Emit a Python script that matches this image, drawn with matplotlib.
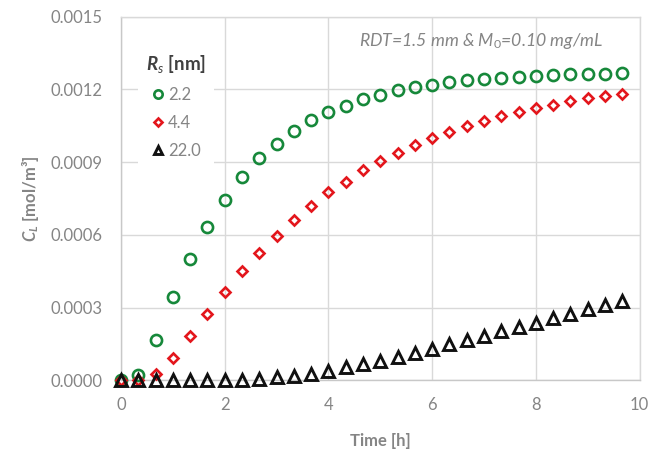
import matplotlib
matplotlib.use("Agg")
import matplotlib.pyplot as plt

plt.rcParams["font.family"] = ["Lato", "DejaVu Sans"]
plt.rcParams["mathtext.fontset"] = "custom"
plt.rcParams["mathtext.rm"] = "Lato"
plt.rcParams["mathtext.it"] = "Lato:italic"
plt.rcParams["mathtext.bf"] = "Lato:bold"
plt.rcParams["mathtext.bfit"] = "Lato:bold:italic"

# Sampling times [h]
time_h = [0.000, 0.333, 0.667, 1.000, 1.333, 1.667, 2.000, 2.333, 2.667, 3.000,
          3.333, 3.667, 4.000, 4.333, 4.667, 5.000, 5.333, 5.667, 6.000, 6.333,
          6.667, 7.000, 7.333, 7.667, 8.000, 8.333, 8.667, 9.000, 9.333, 9.667]

# Released concentration C_L [mol/m^3] for each solute radius
cl_r22 = [0.000000, 0.000024, 0.000165, 0.000343, 0.000501, 0.000634, 0.000745, 0.000838,
          0.000915, 0.000976, 0.001027, 0.001072, 0.001105, 0.001132, 0.001160, 0.001178,
          0.001197, 0.001208, 0.001218, 0.001229, 0.001238, 0.001244, 0.001248, 0.001251,
          0.001256, 0.001259, 0.001261, 0.001263, 0.001265, 0.001267]
cl_r44 = [0.000000, 0.000003, 0.000026, 0.000091, 0.000183, 0.000275, 0.000363, 0.000449,
          0.000527, 0.000597, 0.000661, 0.000720, 0.000775, 0.000819, 0.000866, 0.000904,
          0.000938, 0.000970, 0.000998, 0.001025, 0.001047, 0.001069, 0.001090, 0.001106,
          0.001121, 0.001137, 0.001150, 0.001162, 0.001173, 0.001182]
cl_r220 = [0.000000, 0.000000, 0.000000, 0.000000, 0.000000, 0.000001, 0.000001, 0.000002,
           0.000006, 0.000012, 0.000019, 0.000026, 0.000040, 0.000054, 0.000067, 0.000082,
           0.000096, 0.000114, 0.000131, 0.000150, 0.000167, 0.000185, 0.000203, 0.000219,
           0.000238, 0.000256, 0.000274, 0.000293, 0.000310, 0.000326]

series_labels = ["2.2", "4.4", "22.0"]
x_ticks = [0, 2, 4, 6, 8, 10]
y_ticks = [0.0, 0.0003, 0.0006, 0.0009, 0.0012, 0.0015]

GRAY = "#858585"
GRID = "#d9d9d9"

fig = plt.figure(figsize=(6.52, 4.58), dpi=100)
ax = fig.add_axes([121 / 652, 1 - 380.4 / 458, (639.5 - 121) / 652, (380.4 - 16.5) / 458])

ax.plot(time_h, cl_r22, ls="none", marker="o", ms=8, mew=1.9, mfc="none",
        mec="#16883a", label=series_labels[0], zorder=3, clip_on=False)
ax.plot(time_h, cl_r44, ls="none", marker="D", ms=5.4, mew=1.9, mfc="none",
        mec="#e3161c", label=series_labels[1], zorder=3, clip_on=False)
ax.plot(time_h, cl_r220, ls="none", marker="^", ms=8.3, mew=2.1, mfc="none",
        mec="#111111", label=series_labels[2], zorder=3, clip_on=False)

ax.set_xlim(0, 10)
ax.set_ylim(0, 0.0015)
ax.set_xticks(x_ticks)
ax.set_xticklabels([str(v) for v in x_ticks])
ax.set_yticks(y_ticks)
ax.set_yticklabels([f"{v:.4f}" for v in y_ticks])
ax.tick_params(axis="both", length=0, labelsize=12, labelcolor=GRAY)
ax.tick_params(axis="y", pad=13)
ax.tick_params(axis="x", pad=12)

ax.grid(True, color=GRID, lw=1.0, zorder=0)
ax.set_axisbelow(True)
for side in ["top", "right"]:
    ax.spines[side].set_color(GRID)
    ax.spines[side].set_linewidth(1.0)
for side in ["left", "bottom"]:
    ax.spines[side].set_color("#c8c8c8")
    ax.spines[side].set_linewidth(1.0)

ax.set_xlabel("Time [h]", fontsize=12, fontweight="bold", color=GRAY, labelpad=14)
ax.set_ylabel(r"$\mathbfit{C}_{\mathbfit{L}}$ [mol/m³]", fontsize=12,
              fontweight="bold", color=GRAY, labelpad=7)

ax.text(0.93, 0.932, r"RDT=1.5 mm & $\mathit{M}_{\mathit{0}}$=0.10 mg/mL",
        transform=ax.transAxes, ha="right", va="center", fontsize=12.7,
        style="italic", color=GRAY)

leg = ax.legend(loc="upper left", bbox_to_anchor=(0.016, 0.945),
                title=r"$\mathbfit{R}_{\mathit{s}}$ [nm]",
                title_fontproperties={"size": 13.5, "weight": "bold"},
                fontsize=12, markerscale=0.75, handlelength=0.8, handletextpad=0.2,
                labelspacing=0.72, borderpad=0.5, fancybox=False, framealpha=1,
                facecolor="white", edgecolor="none")
leg.get_title().set_color("#404040")
for t in leg.get_texts():
    t.set_color(GRAY)

fig.savefig("out.png", dpi=100)
